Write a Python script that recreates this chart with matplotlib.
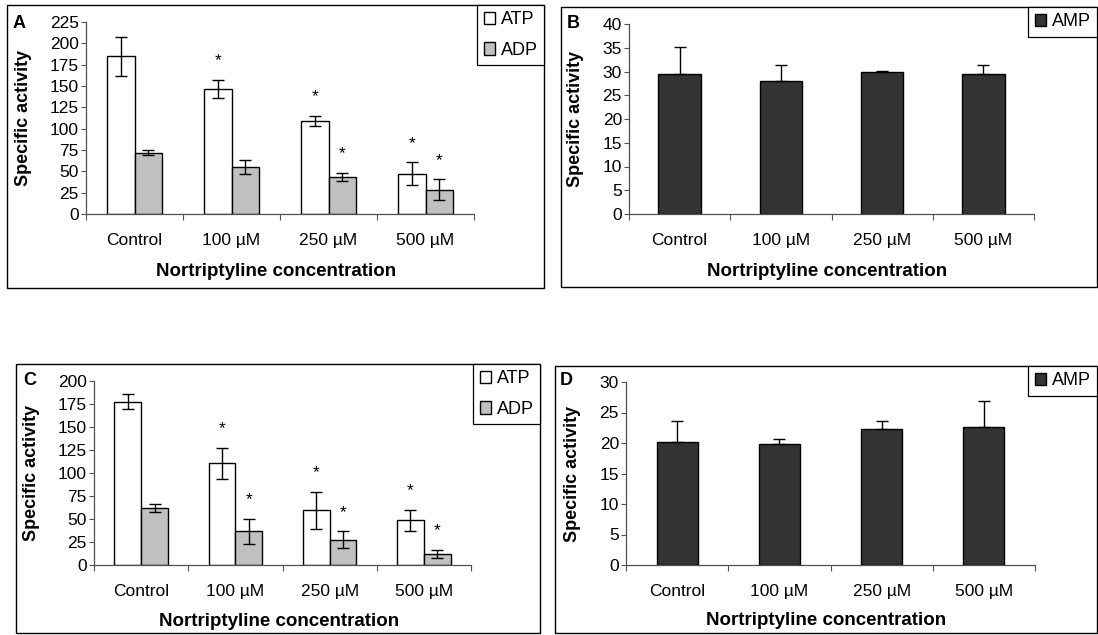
import matplotlib
matplotlib.use("Agg")
import matplotlib.pyplot as plt
from matplotlib.patches import Rectangle
import numpy as np

plt.rcParams["font.family"] = ["Liberation Sans", "DejaVu Sans"]

# ---- data -------------------------------------------------------------
categories = ["Control", "100 µM", "250 µM", "500 µM"]

# Panel A: ATP / ADP hydrolysis
a_atp = [185, 146.5, 109, 47]
a_atp_err = [23, 11, 6, 13.5]
a_adp = [72, 55, 43.5, 28.5]
a_adp_err = [2.5, 8, 5, 12]
a_atp_sig = [False, True, True, True]
a_adp_sig = [False, False, True, True]

# Panel B: AMP hydrolysis
b_amp = [29.5, 28.0, 29.8, 29.5]
b_amp_err = [5.7, 3.3, 0.3, 1.8]

# Panel C: ATP / ADP hydrolysis
c_atp = [177.5, 110.5, 59.5, 48.5]
c_atp_err = [8, 17, 20, 11.5]
c_adp = [62, 36.5, 27.5, 12]
c_adp_err = [4.5, 13.5, 9, 4.5]
c_atp_sig = [False, True, True, True]
c_adp_sig = [False, True, True, True]

# Panel D: AMP hydrolysis
d_amp = [20.2, 19.9, 22.3, 22.7]
d_amp_err = [3.4, 0.8, 1.3, 4.2]

# ---- layout helpers (pixel boxes on a 1098 x 635 canvas) ----------------
W, H = 1098, 635
fig = plt.figure(figsize=(W / 100, H / 100), dpi=100)


def rect(l, t, r, b):
    return [l / W, 1 - b / H, (r - l) / W, (b - t) / H]


def frame(l, t, r, b):
    fig.add_artist(Rectangle((l / W, 1 - b / H), (r - l) / W, (b - t) / H,
                             transform=fig.transFigure, fill=False,
                             edgecolor="black", linewidth=1.0, zorder=0))


AXIS_GREY = "#505050"
FS = 12.5      # tick labels, stars
FS_LEG = 13    # legend entries
FS_LAB = 13    # bold axis titles and panel letters


def style_axes(ax, ymax, ystep, ylab_x, xlab_y):
    ax.set_xlim(0, 4)
    ax.set_ylim(0, ymax)
    ax.set_yticks(np.arange(0, ymax + 0.1, ystep))
    ax.set_xticks([0, 1, 2, 3, 4])
    ax.set_xticklabels([])
    ax.set_xticks([0.5, 1.5, 2.5, 3.5], minor=True)
    ax.set_xticklabels(categories, minor=True, fontsize=FS)
    ax.tick_params(axis="x", which="major", direction="out", length=4,
                   width=0.8, color=AXIS_GREY)
    ax.tick_params(axis="x", which="minor", length=0, pad=13.5)
    ax.tick_params(axis="y", direction="out", length=3.6, width=0.8,
                   color=AXIS_GREY, pad=1.5, labelsize=FS)
    for s in ("top", "right"):
        ax.spines[s].set_visible(False)
    for s in ("left", "bottom"):
        ax.spines[s].set_color(AXIS_GREY)
        ax.spines[s].set_linewidth(0.9)
    ax.patch.set_alpha(0)
    ax.text(ylab_x, 0.5, "Specific activity", transform=ax.transAxes,
            rotation=90, ha="center", va="center", fontsize=FS_LAB,
            fontweight="bold")
    ax.text(0.49, xlab_y, "Nortriptyline concentration",
            transform=ax.transAxes, ha="center", va="center",
            fontsize=13.5, fontweight="bold")


def legend(handles, labels, right, top):
    leg = fig.legend(handles, labels, loc="upper right",
                     bbox_to_anchor=(right / W, 1 - top / H),
                     bbox_transform=fig.transFigure, borderaxespad=0,
                     borderpad=0.35, labelspacing=0.75, handlelength=0.65,
                     handleheight=0.65, handletextpad=0.3, fontsize=FS_LEG,
                     fancybox=False, framealpha=1, edgecolor="black")
    leg.get_frame().set_linewidth(0.9)


def stars(ax, xs, vals, errs, sig):
    for x, v, e, s in zip(xs, vals, errs, sig):
        if s:
            ax.annotate("*", xy=(x, v + e), xytext=(0, 10.5),
                        textcoords="offset points", ha="center",
                        va="baseline", fontsize=FS)


def paired_panel(ax, atp, atp_err, adp, adp_err, atp_sig, adp_sig):
    centers = np.arange(len(categories)) + 0.5
    w = 0.285
    b1 = ax.bar(centers - w, atp, width=w, align="edge", color="white",
                edgecolor="black", linewidth=1.0, label="ATP")
    b2 = ax.bar(centers, adp, width=w, align="edge", color="#c0c0c0",
                edgecolor="black", linewidth=1.0, label="ADP")
    ax.errorbar(centers - w / 2, atp, yerr=atp_err, fmt="none",
                ecolor="black", elinewidth=1.0, capsize=4, capthick=1.0)
    ax.errorbar(centers + w / 2, adp, yerr=adp_err, fmt="none",
                ecolor="black", elinewidth=1.0, capsize=4, capthick=1.0)
    stars(ax, centers - w / 2, atp, atp_err, atp_sig)
    stars(ax, centers + w / 2, adp, adp_err, adp_sig)
    return [b1, b2]


def single_panel(ax, amp, amp_err, w):
    centers = np.arange(len(categories)) + 0.5
    b = ax.bar(centers, amp, width=w, color="#333333", edgecolor="black",
               linewidth=1.0, label="AMP")
    ax.errorbar(centers, amp, yerr=[np.zeros(len(amp)), amp_err],
                fmt="none", ecolor="black", elinewidth=1.0, capsize=4,
                capthick=1.0)
    return [b]


# ---- Panel A -----------------------------------------------------------
frame(7, 5, 544, 288)
axA = fig.add_axes(rect(86, 22, 474, 214))
hA = paired_panel(axA, a_atp, a_atp_err, a_adp, a_adp_err,
                  a_atp_sig, a_adp_sig)
style_axes(axA, 225, 25, -0.16, -0.30)
legend(hA, ["ATP", "ADP"], 544, 5)
fig.text(13 / W, 1 - 28 / H, "A", fontsize=FS_LAB, fontweight="bold",
         ha="left", va="baseline")

# ---- Panel B -----------------------------------------------------------
frame(561, 7, 1097, 287)
axB = fig.add_axes(rect(629, 24, 1034, 214))
hB = single_panel(axB, b_amp, b_amp_err, 0.42)
style_axes(axB, 40, 5, -0.133, -0.30)
legend(hB, ["AMP"], 1097, 7)
fig.text(567 / W, 1 - 28 / H, "B", fontsize=FS_LAB, fontweight="bold",
         ha="left", va="baseline")

# ---- Panel C -----------------------------------------------------------
frame(16, 364, 540, 633)
axC = fig.add_axes(rect(94, 381, 471, 565))
hC = paired_panel(axC, c_atp, c_atp_err, c_adp, c_adp_err,
                  c_atp_sig, c_adp_sig)
style_axes(axC, 200, 25, -0.167, -0.305)
legend(hC, ["ATP", "ADP"], 540, 364)
fig.text(23 / W, 1 - 385 / H, "C", fontsize=FS_LAB, fontweight="bold",
         ha="left", va="baseline")

# ---- Panel D -----------------------------------------------------------
frame(555, 366, 1097, 633)
axD = fig.add_axes(rect(626, 382, 1035, 565))
hD = single_panel(axD, d_amp, d_amp_err, 0.40)
style_axes(axD, 30, 5, -0.132, -0.305)
legend(hD, ["AMP"], 1097, 366)
fig.text(560 / W, 1 - 385 / H, "D", fontsize=FS_LAB, fontweight="bold",
         ha="left", va="baseline")

fig.savefig("out.png", dpi=100)
